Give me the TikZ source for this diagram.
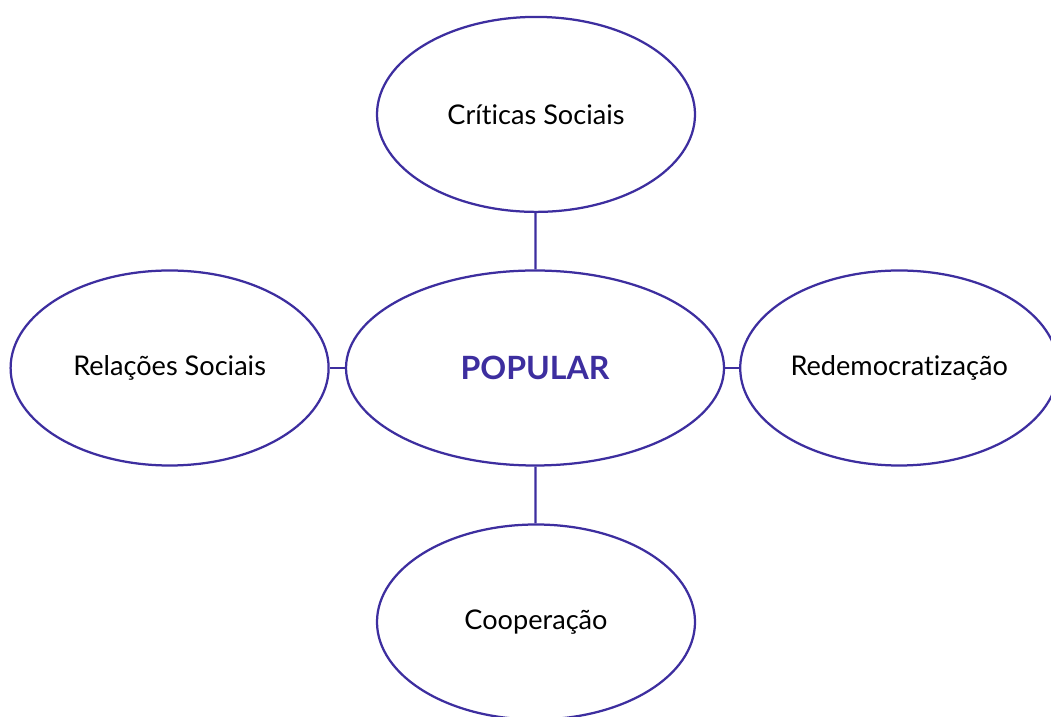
\documentclass[tikz,border=0pt]{standalone}
\usepackage{fontspec}
\setmainfont{Lato}[Ligatures=NoCommon]
\definecolor{roxo}{HTML}{3D2E9F}
\usetikzlibrary{shapes.geometric,positioning}

\begin{document}
\begin{tikzpicture}
\tikzset{
  bolha/.style={ellipse,draw=roxo,line width=1.6pt,fill=white,inner sep=0pt,
    minimum width=7.95cm,minimum height=4.875cm,font=\fontsize{19.3}{22}\selectfont},
  ligacao/.style={draw=roxo,line width=1.6pt}
}
\useasboundingbox (0,0) rectangle (26.275,17.9);
\coordinate (C) at (13.375,8.7);
\coordinate (T) at (13.4,15.04);
\coordinate (E) at (4.24,8.7);
\coordinate (D) at (22.48,8.7);
\coordinate (B) at (13.4,2.35);
\node[bolha,minimum width=9.45cm,text=roxo,font=\fontsize{22.8}{26}\selectfont\bfseries] (popular) at (C) {POPULAR};
\node[bolha] (criticas) at (T) {Críticas Sociais};
\node[bolha] (relacoes) at (E) {Relações Sociais};
\node[bolha] (redemo) at (D) {Redemocratização};
\node[bolha] (coop) at (B) {Cooperação};
\foreach \n in {criticas,relacoes,redemo,coop} \draw[ligacao] (popular) -- (\n);
\end{tikzpicture}
\end{document}
